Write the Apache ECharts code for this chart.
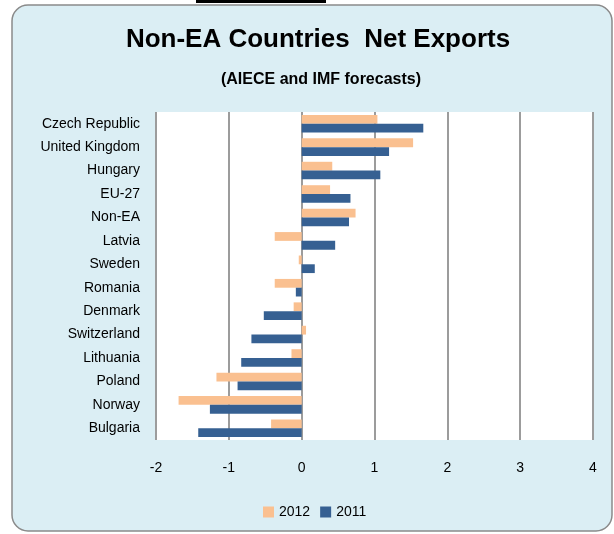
<!DOCTYPE html>
<html><head><meta charset="utf-8">
<script src="https://cdn.jsdelivr.net/npm/echarts@6/dist/echarts.min.js"></script>
<style>html,body{margin:0;padding:0;background:#fff}#c{width:614px;height:534px}</style>
</head><body><div id="c"></div>
<script>
const categories = ['Czech Republic','United Kingdom','Hungary','EU-27','Non-EA','Latvia','Sweden','Romania','Denmark','Switzerland','Lithuania','Poland','Norway','Bulgaria'];
const values2012 = [1.04, 1.53, 0.42, 0.39, 0.74, -0.37, -0.04, -0.37, -0.11, 0.06, -0.14, -1.17, -1.69, -0.42];
const values2011 = [1.67, 1.20, 1.08, 0.67, 0.65, 0.46, 0.18, -0.08, -0.52, -0.69, -0.83, -0.88, -1.26, -1.42];
const xTicks = {min: -2, max: 4, interval: 1};
const titleText = 'Non-EA Countries  Net Exports';
const subtitleText = '(AIECE and IMF forecasts)';

const chart = echarts.init(document.getElementById('c'), null, {renderer: 'canvas'});
const font = 'Liberation Sans, Arial, sans-serif';
chart.setOption({
  animation: false,
  backgroundColor: '#ffffff',
  graphic: [
    {type: 'rect', z: -10, shape: {x: 12, y: 5, width: 600, height: 526, r: 16},
     style: {fill: '#dbeef4', stroke: '#8a8a8a', lineWidth: 1.5}},
    {type: 'rect', z: -9, shape: {x: 196, y: 0, width: 130, height: 3}, style: {fill: '#000'}},
    {type: 'rect', z: -8, shape: {x: 156, y: 112, width: 437, height: 328}, style: {fill: '#ffffff'}}
  ],
  title: [
    {text: titleText, left: 313, textAlign: 'center', top: 22,
     textStyle: {fontFamily: font, fontSize: 26, fontWeight: 'bold', color: '#000'}},
    {text: subtitleText, left: 316, textAlign: 'center', top: 67,
     textStyle: {fontFamily: font, fontSize: 16, fontWeight: 'bold', color: '#000'}}
  ],
  legend: {
    data: ['2012', '2011'], left: 258, top: 500,
    itemWidth: 11, itemHeight: 11, itemGap: 10, icon: 'rect',
    textStyle: {fontFamily: font, fontSize: 14, color: '#000'}
  },
  grid: {left: 156, right: 21, top: 112, bottom: 94, containLabel: false},
  xAxis: {
    type: 'value', min: xTicks.min, max: xTicks.max, interval: xTicks.interval,
    axisLine: {show: false}, axisTick: {show: false},
    splitLine: {show: true, lineStyle: {color: '#9c9c9c', width: 2}},
    axisLabel: {fontFamily: font, fontSize: 14, color: '#000', margin: 21}
  },
  yAxis: {
    type: 'category', data: categories, inverse: true,
    axisLine: {show: false}, axisTick: {show: false}, splitLine: {show: false},
    axisLabel: {fontFamily: font, fontSize: 14, color: '#000', margin: 16}
  },
  series: [
    {name: '2012', type: 'bar', data: values2012, barGap: '0%', barCategoryGap: '25%',
     itemStyle: {color: '#fac090'}},
    {name: '2011', type: 'bar', data: values2011, barGap: '0%', barCategoryGap: '25%',
     itemStyle: {color: '#366092'}}
  ]
});
</script></body></html>
